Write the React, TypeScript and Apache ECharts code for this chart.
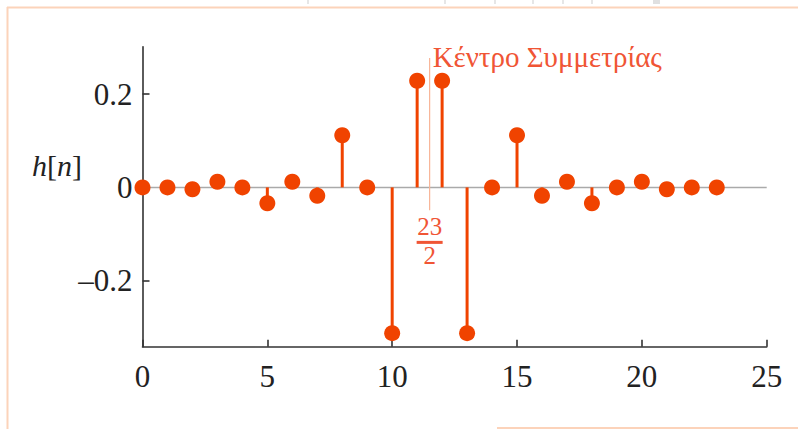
import React, { useEffect, useRef } from "react";
import * as echarts from "echarts";

// ---- data ----
const nValues = [0, 1, 2, 3, 4, 5, 6, 7, 8, 9, 10, 11, 12, 13, 14, 15, 16, 17, 18, 19, 20, 21, 22, 23];
const hValues = [
  0, 0, -0.004, 0.012, 0, -0.034, 0.012, -0.018, 0.112, 0, -0.313, 0.229,
  0.229, -0.313, 0, 0.112, -0.018, 0.012, -0.034, 0, 0.012, -0.004, 0, 0,
];
const xTicks = [0, 5, 10, 15, 20, 25];
const yTicks = [-0.2, 0, 0.2];
const yMin = -0.342;
const yMax = 0.302;
const symmetryCenter = 11.5;
const centerLineTop = 0.2775;
const centerLineBottom = -0.049;
const centerLabel = "Κέντρο Συμμετρίας";
const fracNum = "23";
const fracDen = "2";

const SERIF = "Liberation Serif";

export default function App() {
  const ref = useRef<HTMLDivElement>(null);

  useEffect(() => {
    if (!ref.current) return;
    const chart = echarts.init(ref.current, null, { renderer: "svg" });
    const stemColor = "#F04300";
    const annColor = "#F05535";
    const axisColor = "#333";
    const points = nValues.map((n, i) => [n, hValues[i]]);

    chart.setOption({
      animation: false,
      backgroundColor: "#fff",
      textStyle: { fontFamily: SERIF },
      grid: { left: 142.5, top: 46.7, width: 624.2, height: 300 },
      xAxis: {
        type: "value",
        min: xTicks[0],
        max: xTicks[xTicks.length - 1],
        interval: 5,
        axisLine: { show: true, onZero: false, lineStyle: { color: axisColor, width: 1.6 } },
        axisTick: { show: true, inside: true, length: 7, lineStyle: { color: axisColor, width: 1.6 } },
        axisLabel: { fontFamily: SERIF, fontSize: 31, color: "#222", margin: 14 },
        splitLine: { show: false },
      },
      yAxis: {
        type: "value",
        min: yMin,
        max: yMax,
        axisLine: { show: true, onZero: false, lineStyle: { color: axisColor, width: 1.6 } },
        axisTick: {
          show: true,
          inside: true,
          length: 7,
          customValues: yTicks,
          lineStyle: { color: axisColor, width: 1.6 },
        },
        axisLabel: {
          customValues: yTicks,
          fontFamily: SERIF,
          fontSize: 31,
          color: "#222",
          margin: 10,
          formatter: (v: number) => (v < 0 ? "\u2013" + String(Math.abs(v)) : String(v)),
        },
        splitLine: { show: false },
      },
      series: [
        {
          type: "line",
          data: [[xTicks[0], 0], [xTicks[xTicks.length - 1], 0]],
          symbol: "none",
          lineStyle: { color: "#aaaaaa", width: 1.5 },
          silent: true,
          z: 1,
        },
        {
          type: "line",
          data: [[symmetryCenter, centerLineTop], [symmetryCenter, centerLineBottom]],
          symbol: "none",
          lineStyle: { color: "#F8B496", width: 1.2 },
          silent: true,
          z: 1,
        },
        {
          type: "custom",
          data: points,
          encode: { x: 0, y: 1 },
          z: 2,
          renderItem: (_params: any, api: any) => {
            const x = api.value(0);
            const y = api.value(1);
            const p0 = api.coord([x, 0]);
            const p1 = api.coord([x, y]);
            return {
              type: "line",
              shape: { x1: p0[0], y1: p0[1], x2: p1[0], y2: p1[1] },
              style: { stroke: stemColor, lineWidth: 3 },
            };
          },
        },
        {
          type: "scatter",
          data: points,
          symbol: "circle",
          symbolSize: 16,
          itemStyle: { color: stemColor, opacity: 1 },
          z: 3,
        },
      ],
    });

    const c = chart.convertToPixel({ gridIndex: 0 }, [symmetryCenter, 0]) as number[];
    const cx = c[0];
    const cy = c[1];

    chart.setOption({
      graphic: [
        // frame
        { type: "line", shape: { x1: 7, y1: 7.5, x2: 798, y2: 7.5 }, style: { stroke: "#FCD3BA", lineWidth: 2 }, silent: true },
        { type: "line", shape: { x1: 7.5, y1: 7, x2: 7.5, y2: 429 }, style: { stroke: "#FCD3BA", lineWidth: 2 }, silent: true },
        { type: "line", shape: { x1: 497, y1: 428, x2: 798, y2: 428 }, style: { stroke: "#FCD3BA", lineWidth: 2 }, silent: true },
        // faint marks above frame
        ...[308, 445, 495, 533, 563, 592].map((x) => ({
          type: "rect",
          shape: { x: x - 1, y: 0, width: 2, height: 4 },
          style: { fill: "#e6e6e6" },
          silent: true,
        })),
        { type: "rect", shape: { x: 653, y: 0, width: 7, height: 4 }, style: { fill: "#e0e0e0" }, silent: true },
        // y name
        {
          type: "text",
          x: 57,
          y: 165,
          style: {
            text: "{i|h}{r|[}{i|n}{r|]}",
            align: "center",
            verticalAlign: "middle",
            fill: "#222",
            rich: {
              i: { fontFamily: SERIF, fontStyle: "italic", fontSize: 30, fill: "#222" },
              r: { fontFamily: SERIF, fontSize: 30, fill: "#222" },
            },
          },
          silent: true,
        },
        // symmetry label
        {
          type: "text",
          x: cx + 3,
          y: 57,
          style: {
            text: centerLabel,
            align: "left",
            verticalAlign: "middle",
            fill: annColor,
            fontFamily: SERIF,
            fontSize: 29,
          },
          silent: true,
        },
        // fraction 23/2
        {
          type: "text",
          x: cx,
          y: cy + 39,
          style: { text: fracNum, align: "center", verticalAlign: "middle", fill: annColor, fontFamily: SERIF, fontSize: 25 },
          silent: true,
        },
        {
          type: "rect",
          shape: { x: cx - 13, y: cy + 53.5, width: 26, height: 3 },
          style: { fill: annColor },
          silent: true,
        },
        {
          type: "text",
          x: cx,
          y: cy + 68,
          style: { text: fracDen, align: "center", verticalAlign: "middle", fill: annColor, fontFamily: SERIF, fontSize: 25 },
          silent: true,
        },
      ],
    });

    return () => chart.dispose();
  }, []);

  return (
    <div
      ref={ref}
      style={{ position: "fixed", left: 0, top: 0, width: 798, height: 429, background: "#fff" }}
    />
  );
}
